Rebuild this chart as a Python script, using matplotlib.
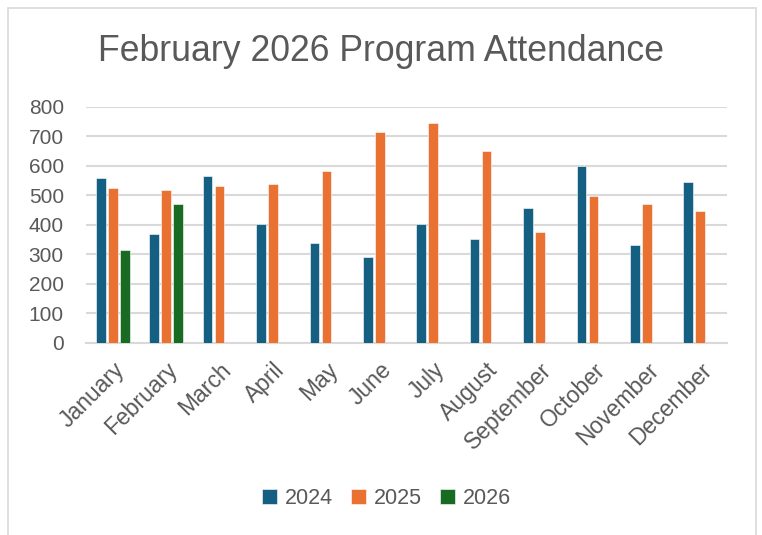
import numpy as np
import matplotlib
matplotlib.use("Agg")
import matplotlib.pyplot as plt
from matplotlib.patches import Rectangle

months = ['January', 'February', 'March', 'April', 'May', 'June', 'July',
          'August', 'September', 'October', 'November', 'December']
att_2024 = [560, 370, 565, 403, 338, 290, 403, 354, 457, 599, 332, 545]
att_2025 = [526, 518, 532, 539, 582, 714, 745, 650, 376, 497, 470, 446]
att_2026 = [316, 470, np.nan, np.nan, np.nan, np.nan, np.nan, np.nan,
            np.nan, np.nan, np.nan, np.nan]
years = ['2024', '2025', '2026']
colors = ['#156082', '#E97132', '#196B24']

plt.rcParams['font.family'] = ['Liberation Sans', 'DejaVu Sans']
text_col = '#595959'
grid_col = '#d9d9d9'

fig = plt.figure(figsize=(7.62, 5.35), dpi=100)
ax = fig.add_axes([0.1129, 0.359, 0.8411, 0.441])

# chart border
fig.patches.append(Rectangle((8 / 762, -0.01), 748 / 762, 1 - 8 / 535 + 0.01,
                             transform=fig.transFigure, fill=False,
                             edgecolor='#d9d9d9', lw=1.2))

x = np.arange(len(months))
width = 0.18
step = 0.225
for i, (vals, yr, c) in enumerate(zip([att_2024, att_2025, att_2026], years, colors)):
    ax.bar(x + (i - 1) * step, vals, width, color=c, label=yr,
           edgecolor='white', linewidth=0.4, zorder=3)

ax.set_xlim(-0.5, len(months) - 0.5)
ax.set_ylim(0, 800)
ax.set_yticks(range(0, 801, 100))
ax.yaxis.grid(True, color=grid_col, lw=1.5, zorder=0)
for s in ['top', 'right', 'left']:
    ax.spines[s].set_visible(False)
ax.spines['bottom'].set_color(grid_col)
ax.spines['bottom'].set_linewidth(1.5)
ax.tick_params(axis='both', length=0, colors=text_col, labelsize=15)
ax.tick_params(axis='y', pad=16)
ax.tick_params(axis='x', pad=11, labelsize=16.5)
ax.set_xticks(x)
ax.set_xticklabels(months, rotation=45, ha='right', va='top',
                   rotation_mode='anchor')

fig.text(0.5, 0.903, 'February 2026 Program Attendance', ha='center',
         va='center', fontsize=25.7, color=text_col)

leg = fig.legend(loc='center', bbox_to_anchor=(0.507, 0.068), ncol=3,
                 frameon=False, fontsize=15.5, handlelength=0.7,
                 handleheight=0.7, handletextpad=0.35, columnspacing=0.85)
for t in leg.get_texts():
    t.set_color(text_col)

fig.savefig('out.png', dpi=100)
